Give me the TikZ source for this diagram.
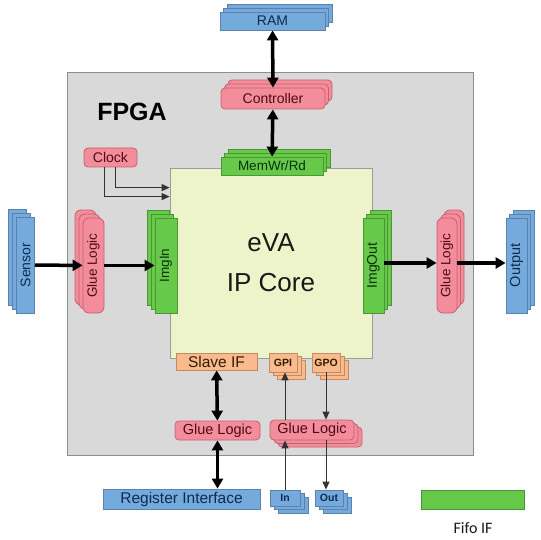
\documentclass[tikz,border=0pt]{standalone}
\usepackage{fontspec}
\setmainfont{Liberation Sans}
\newfontfamily\captionfont{Carlito}
\usepackage{tikz}
\usetikzlibrary{positioning,arrows.meta,calc,shadows}
\usepackage{xcolor}

\definecolor{fpgagray}{HTML}{D9D9D9}
\definecolor{fpgaline}{HTML}{8E8E8E}
\definecolor{corefill}{HTML}{EEF4C9}
\definecolor{coreline}{HTML}{9C9C9C}
\definecolor{ioblue}{HTML}{74ABDC}
\definecolor{iobluedark}{HTML}{5B82AC}
\definecolor{iobluetext}{HTML}{102A4E}
\definecolor{gluepink}{HTML}{F38D9B}
\definecolor{gluepinkdark}{HTML}{C8606F}
\definecolor{gluepinktext}{HTML}{4E0A15}
\definecolor{fifogreen}{HTML}{67C94A}
\definecolor{fifogreendark}{HTML}{4C9636}
\definecolor{fifogreentext}{HTML}{0A300A}
\definecolor{slaveorange}{HTML}{F9BA8D}
\definecolor{slaveorangedark}{HTML}{C48B5E}
\definecolor{slaveorangetext}{HTML}{331C05}

\begin{document}
\begin{tikzpicture}[
    x=1pt, y=-1pt,
    base/.style={
        rectangle, draw, line width=0.8pt, inner sep=0pt,
        align=center, font=\fontsize{14}{16}\selectfont
    },
    iobox/.style={base, fill=ioblue, draw=iobluedark, text=iobluetext},
    gluebox/.style={base, fill=gluepink, draw=gluepinkdark, text=gluepinktext, rounded corners=4pt},
    fifobox/.style={base, fill=fifogreen, draw=fifogreendark, text=fifogreentext},
    slavebox/.style={base, fill=slaveorange, draw=slaveorangedark, text=slaveorangetext},
    small/.style={font=\fontsize{10.5}{12}\selectfont\bfseries},
    stackUR/.style={
        copy shadow={shadow xshift=7pt, shadow yshift=8pt},
        copy shadow={shadow xshift=3.5pt, shadow yshift=4pt}
    },
    stackUL/.style={
        copy shadow={shadow xshift=-8pt, shadow yshift=8pt},
        copy shadow={shadow xshift=-4pt, shadow yshift=4pt}
    },
    stackDR/.style={
        copy shadow={shadow xshift=8pt, shadow yshift=-7pt},
        copy shadow={shadow xshift=4pt, shadow yshift=-3.5pt}
    },
    bigarrow/.style={line width=3.5pt, -{Triangle[length=10pt,width=11pt]}},
    bigboth/.style={line width=3.5pt, {Triangle[length=10pt,width=11pt]}-{Triangle[length=10pt,width=11pt]}},
    thinarrow/.style={line width=1pt, draw=black!80, -{Triangle[length=8pt,width=7pt]}}
]
\fill[white] (0,0) rectangle (540,540);
\useasboundingbox (0,0) rectangle (540,540);

% FPGA frame and core
\node[draw=fpgaline, fill=fpgagray, line width=0.8pt, minimum width=406pt, minimum height=383pt] (fpga) at (270,263.5) {};
\node[font=\fontsize{25}{28}\selectfont\bfseries] (fpgalabel) at (132,112) {FPGA};
\node[draw=coreline, fill=corefill, line width=0.8pt, minimum width=202pt, minimum height=190pt,
      align=center, font=\fontsize{26}{40}\selectfont, text=black!90] (core) at (271,263) {eVA\\IP Core};

% memory side
\node[iobox, stackUR, minimum width=105pt, minimum height=18pt] (ram) at (272.5,21) {RAM};
\node[gluebox, stackUR, minimum width=104pt, minimum height=21pt] (ctrl) at (273,98.5) {Controller};
\node[fifobox, stackUR, minimum width=102pt, minimum height=18pt, font=\fontsize{13.5}{15}\selectfont] (memwr) at (272,166) {MemWr/Rd};
\node[gluebox, minimum width=53pt, minimum height=19pt] (clock) at (110.5,157.5) {Clock};

% image in
\node[iobox, stackUL, minimum width=18pt, minimum height=96pt] (sensor) at (25.5,265) {\rotatebox{90}{Sensor}};
\node[gluebox, stackUL, minimum width=21pt, minimum height=95pt, rounded corners=6pt, font=\fontsize{13.5}{15}\selectfont] (gluel) at (93.5,265.5) {\rotatebox{90}{Glue Logic}};
\node[fifobox, stackUL, minimum width=22pt, minimum height=95pt, font=\fontsize{13.5}{15}\selectfont] (imgin) at (166,265.5) {\rotatebox{90}{ImgIn}};

% image out
\node[fifobox, stackUR, minimum width=21pt, minimum height=95pt] (imgout) at (373.5,265.5) {\rotatebox{90}{ImgOut}};
\node[gluebox, stackUR, minimum width=20pt, minimum height=95pt, rounded corners=6pt, font=\fontsize{13.5}{15}\selectfont] (gluer) at (447,265.5) {\rotatebox{90}{Glue Logic}};
\node[iobox, stackUR, minimum width=21pt, minimum height=95pt, font=\fontsize{14.5}{16}\selectfont] (output) at (516.5,265.5) {\rotatebox{90}{Output}};

% register and gpio side
\node[slavebox, minimum width=81pt, minimum height=17pt, font=\fontsize{15.5}{17}\selectfont] (slave) at (216.5,361.5) {Slave IF};
\node[slavebox, stackDR, small, minimum width=28pt, minimum height=19pt] (gpi) at (283,362.5) {GPI};
\node[slavebox, stackDR, small, minimum width=28pt, minimum height=19pt] (gpo) at (326,362.5) {GPO};
\node[gluebox, minimum width=85pt, minimum height=19pt, font=\fontsize{14.5}{16}\selectfont] (gluebl) at (217.5,430.5) {Glue Logic};
\node[gluebox, stackDR, minimum width=84pt, minimum height=20pt, font=\fontsize{14.5}{16}\selectfont] (gluebr) at (312,430) {Glue Logic};
\node[iobox, minimum width=157pt, minimum height=20pt, font=\fontsize{15.5}{17}\selectfont] (reg) at (181.5,499) {Register Interface};
\node[iobox, stackDR, small, minimum width=30pt, minimum height=16pt] (in) at (285,498) {In};
\node[iobox, stackDR, small, minimum width=28pt, minimum height=16pt] (out) at (329,498) {Out};

% legend
\node[fifobox, minimum width=103pt, minimum height=19pt] (legend) at (472.5,499.5) {};
\node[font=\captionfont\fontsize{16}{18}\selectfont, text=black!90] (legendtext) at (473,528) {Fifo IF};

% thick connections
\draw[bigboth] (ram) -- (ctrl);
\draw[bigboth] (ctrl) -- (memwr);
\draw[bigboth] (slave) -- (gluebl);
\draw[bigboth] (gluebl.south) -- (gluebl.south |- reg.north);
\draw[bigarrow] (sensor) -- (gluel);
\draw[bigarrow] (gluel) -- (imgin);
\draw[bigarrow] ([yshift=2.5pt]imgout.east) -- ([yshift=2.5pt]gluer.west);
\draw[bigarrow] ([yshift=2.5pt]gluer.east) -- ([yshift=2.5pt]output.west);

% thin connections
\draw[thinarrow] ([xshift=4.5pt]clock.south) |- ([yshift=-20pt]core.north west);
\draw[thinarrow] ([xshift=-6.5pt]clock.south) |- ([yshift=-29pt]core.north west);
\draw[thinarrow] (in.north) -- (in.north |- gluebr.south);
\draw[thinarrow] (in.north |- gluebr.north) -- (in.north |- gpi.south);
\draw[thinarrow] (gpo.south) -- (gpo.south |- gluebr.north);
\draw[thinarrow] (gpo.south |- gluebr.south) -- (gpo.south |- out.north);

\end{tikzpicture}
\end{document}
